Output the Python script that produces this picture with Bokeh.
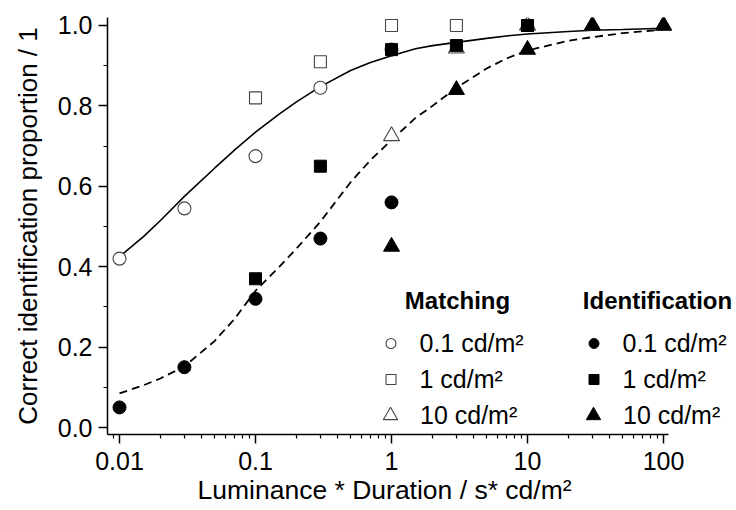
from bokeh.plotting import figure
from bokeh.models import Range1d, FixedTicker, Legend, LegendItem, Label, Title, PrintfTickFormatter
from bokeh.embed import file_html
from bokeh.resources import INLINE

FONT = "Liberation Sans"

# ---- data ----
m01_x = [0.01, 0.03, 0.1, 0.3, 1]
m01_y = [0.42, 0.545, 0.675, 0.845, 0.94]
m1_x = [0.1, 0.3, 1, 3, 10]
m1_y = [0.82, 0.91, 1.0, 1.0, 1.0]
m10_x = [1, 3, 10, 30, 100]
m10_y = [0.725, 0.943, 1.0, 1.0, 1.0]

i01_x = [0.01, 0.03, 0.1, 0.3, 1]
i01_y = [0.05, 0.15, 0.32, 0.47, 0.56]
i1_x = [0.1, 0.3, 1, 3, 10]
i1_y = [0.37, 0.65, 0.94, 0.95, 1.0]
i10_x = [1, 3, 10, 30, 100]
i10_y = [0.45, 0.84, 0.94, 1.0, 1.0]

fit_x = [0.01, 0.015, 0.02, 0.03, 0.05, 0.07, 0.1, 0.15, 0.2, 0.3, 0.5, 0.7,
         1, 1.5, 2, 3, 5, 7, 10, 20, 30, 50, 100]
fit_match_y = [0.425, 0.475, 0.515, 0.575, 0.645, 0.69, 0.735, 0.78, 0.81, 0.848,
               0.888, 0.908, 0.925, 0.942, 0.950, 0.958, 0.968, 0.974, 0.979,
               0.985, 0.988, 0.990, 0.993]
fit_ident_y = [0.085, 0.105, 0.122, 0.152, 0.215, 0.27, 0.34, 0.40, 0.445, 0.512,
               0.61, 0.665, 0.715, 0.77, 0.80, 0.845, 0.893, 0.918, 0.938,
               0.962, 0.971, 0.981, 0.99]

x_ticks = [0.01, 0.1, 1, 10, 100]
x_tick_labels = ["0.01", "0.1", "1", "10", "100"]
x_minor = [m * d for d in [0.001, 0.01, 0.1, 1, 10] for m in range(2, 10)]
y_ticks = [0.0, 0.2, 0.4, 0.6, 0.8, 1.0]
y_minor = [0.1, 0.3, 0.5, 0.7, 0.9]
x_axis_extent = (0.00816, 108.9)

x_title = "Luminance * Duration / s* cd/m²"
y_title = "Correct identification proportion / 1"
legend_labels = ["0.1 cd/m²", "1 cd/m²", "10 cd/m²"]

# ---- figure ----
p = figure(width=736, height=510, x_axis_type="log",
           x_range=Range1d(0.00816, 344), y_range=Range1d(-0.0174, 1.0199),
           output_backend="svg", toolbar_location=None,
           min_border_left=107, min_border_right=0,
           min_border_top=17, min_border_bottom=76)
p.outline_line_color = None
p.xgrid.visible = False
p.ygrid.visible = False
p.background_fill_color = "white"
p.border_fill_color = "white"

xa = p.xaxis[0]
xa.ticker = FixedTicker(ticks=x_ticks, minor_ticks=x_minor)
xa.major_label_overrides = dict(zip(x_ticks, x_tick_labels))
xa.bounds = x_axis_extent
ya = p.yaxis[0]
ya.ticker = FixedTicker(ticks=y_ticks, minor_ticks=y_minor)
ya.formatter = PrintfTickFormatter(format="%.1f")
ya.axis_label = y_title

for ax in (xa, ya):
    ax.axis_line_width = 1.5
    ax.axis_line_color = "black"
    ax.major_tick_line_width = 1.5
    ax.minor_tick_line_width = 1.2
    ax.major_tick_line_color = "black"
    ax.minor_tick_line_color = "black"
    ax.major_tick_in = 0
    ax.major_tick_out = 9
    ax.minor_tick_in = 0
    ax.minor_tick_out = 4
    ax.major_label_text_font = FONT
    ax.major_label_text_font_size = "25px"
    ax.major_label_text_color = "black"
    ax.axis_label_text_font = FONT
    ax.axis_label_text_font_size = "26px"
    ax.axis_label_text_font_style = "normal"
    ax.axis_label_text_color = "black"
xa.major_label_standoff = 8
ya.major_label_standoff = 6
ya.axis_label_standoff = 12

# x-axis title, centred under the drawn axis line (not the wider frame)
p.add_layout(Title(text=x_title, align="left", offset=90, standoff=0,
                   text_font=FONT, text_font_size="26.5px", text_font_style="normal",
                   text_color="black"), "below")

# fitted curves
p.line(fit_x, fit_match_y, line_color="black", line_width=1.6)
p.line(fit_x, fit_ident_y, line_color="black", line_width=1.8, line_dash="8 5")

OPEN = dict(fill_color="white", line_color="#444444", line_width=1.1)
FILL = dict(fill_color="black", line_color="black", line_width=1)

r_m01 = p.scatter(m01_x, m01_y, marker="circle", size=13, **OPEN)
r_m1 = p.scatter(m1_x, m1_y, marker="square", size=12, **OPEN)
r_m10 = p.scatter(m10_x, m10_y, marker="triangle", size=16, **OPEN)
r_i01 = p.scatter(i01_x, i01_y, marker="circle", size=13, **FILL)
r_i1 = p.scatter(i1_x, i1_y, marker="square", size=12, **FILL)
r_i10 = p.scatter(i10_x, i10_y, marker="triangle", size=16, **FILL)

LEG = dict(orientation="vertical", padding=0, margin=0, border_line_color=None,
           background_fill_alpha=0, label_text_font=FONT,
           label_text_font_size="25px", label_text_color="black")

def add_legends(col_x, renderers):
    top = Legend(items=[LegendItem(label=legend_labels[0], renderers=[renderers[0]]),
                        LegendItem(label=legend_labels[1], renderers=[renderers[1]])],
                 location=(col_x - 12.5 - 107, 40), glyph_width=25, glyph_height=30,
                 label_height=30, spacing=6, label_standoff=17, **LEG)
    bot = Legend(items=[LegendItem(label=legend_labels[2], renderers=[renderers[2]])],
                 location=(col_x - 18 - 107, 1), glyph_width=36, glyph_height=36,
                 label_height=36, spacing=0, label_standoff=12, **LEG)
    p.add_layout(top)
    p.add_layout(bot)

add_legends(390, [r_m01, r_m1, r_m10])
add_legends(593, [r_i01, r_i1, r_i10])

for txt, cx in (("Matching", 457), ("Identification", 657)):
    p.add_layout(Label(x=cx - 107, y=434 - 300, x_units="screen", y_units="screen",
                       text=txt, text_align="center", text_baseline="middle",
                       text_font=FONT, text_font_style="bold", text_font_size="24px",
                       text_color="black"))

open("out.html", "w").write(file_html(p, INLINE))
